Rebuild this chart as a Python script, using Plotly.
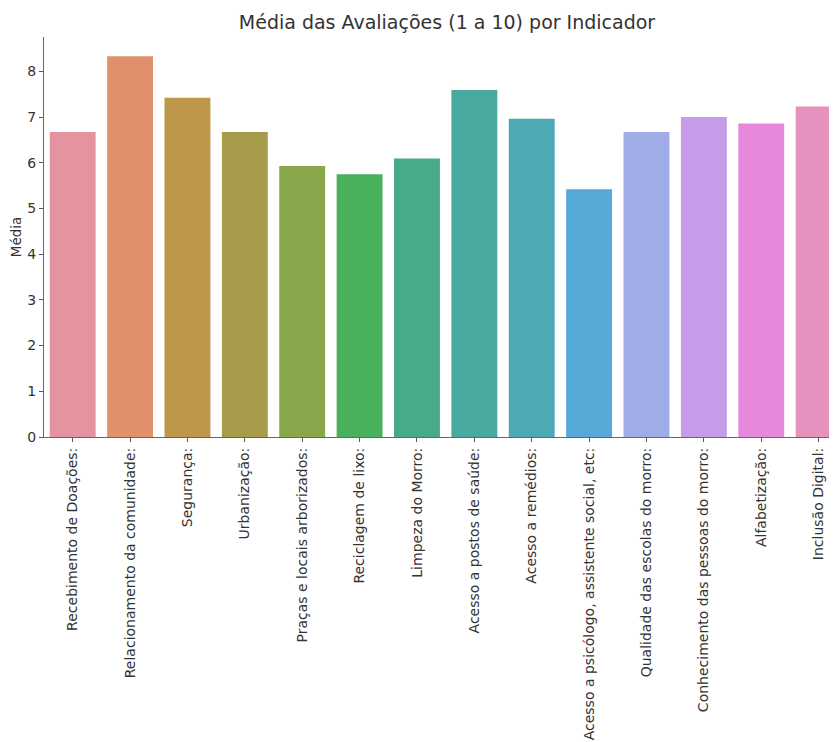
import plotly.graph_objects as go

categories = [
    "Recebimento de Doações:",
    "Relacionamento da comunidade:",
    "Segurança:",
    "Urbanização:",
    "Praças e locais arborizados:",
    "Reciclagem de lixo:",
    "Limpeza do Morro:",
    "Acesso a postos de saúde:",
    "Acesso a remédios:",
    "Acesso a psicólogo, assistente social, etc:",
    "Qualidade das escolas do morro:",
    "Conhecimento das pessoas do morro:",
    "Alfabetização:",
    "Inclusão Digital:",
]
medias = [6.67, 8.33, 7.42, 6.67, 5.93, 5.75, 6.09, 7.59, 6.96, 5.42, 6.67, 7.00, 6.86, 7.23]
bar_colors = [
    "#e5949f", "#e0916b", "#be974b", "#a69c49", "#88a64a", "#49b05c", "#47ab89",
    "#4aa99f", "#4ca9b5", "#57a9d7", "#a0acE6", "#c49ce8", "#e689da", "#e792be",
]
y_ticks = [0, 1, 2, 3, 4, 5, 6, 7, 8]

# page body has an 8px default margin; figure fills the rest of the 837x742 window
W, H = 829, 734
font_fam = "DejaVu Sans"

fig = go.Figure(
    go.Bar(
        x=list(range(len(categories))),
        y=medias,
        marker=dict(color=bar_colors, line=dict(width=0)),
        width=0.8,
    )
)

fig.update_layout(
    width=W,
    height=H,
    margin=dict(l=36, r=0, t=29, b=305),
    plot_bgcolor="white",
    paper_bgcolor="white",
    showlegend=False,
    font=dict(family=font_fam, size=13, color="#333333"),
    title=dict(
        text="Média das Avaliações (1 a 10) por Indicador",
        x=439 / W,
        xanchor="center",
        xref="container",
        y=1 - 14 / H,
        yanchor="middle",
        yref="container",
        font=dict(family=font_fam, size=19, color="#333333"),
    ),
)

fig.update_xaxes(
    range=[-0.5, 13.32],
    tickmode="array",
    tickvals=list(range(len(categories))),
    ticktext=categories,
    tickangle=-90,
    ticks="outside",
    ticklen=4,
    tickcolor="#555555",
    showline=True,
    linecolor="#666666",
    linewidth=1.2,
    showgrid=False,
    zeroline=False,
    automargin=False,
    tickfont=dict(family=font_fam, size=14, color="#333333"),
)
fig.update_yaxes(
    range=[0, 8.75],
    tickmode="array",
    tickvals=y_ticks,
    ticks="outside",
    ticklen=4,
    tickcolor="#555555",
    showline=True,
    linecolor="#666666",
    linewidth=1.2,
    showgrid=False,
    zeroline=False,
    automargin=False,
    tickfont=dict(family=font_fam, size=14, color="#333333"),
    title=dict(text="Média", font=dict(family=font_fam, size=13.5, color="#333333"), standoff=6),
)

fig.write_html("out.html")
